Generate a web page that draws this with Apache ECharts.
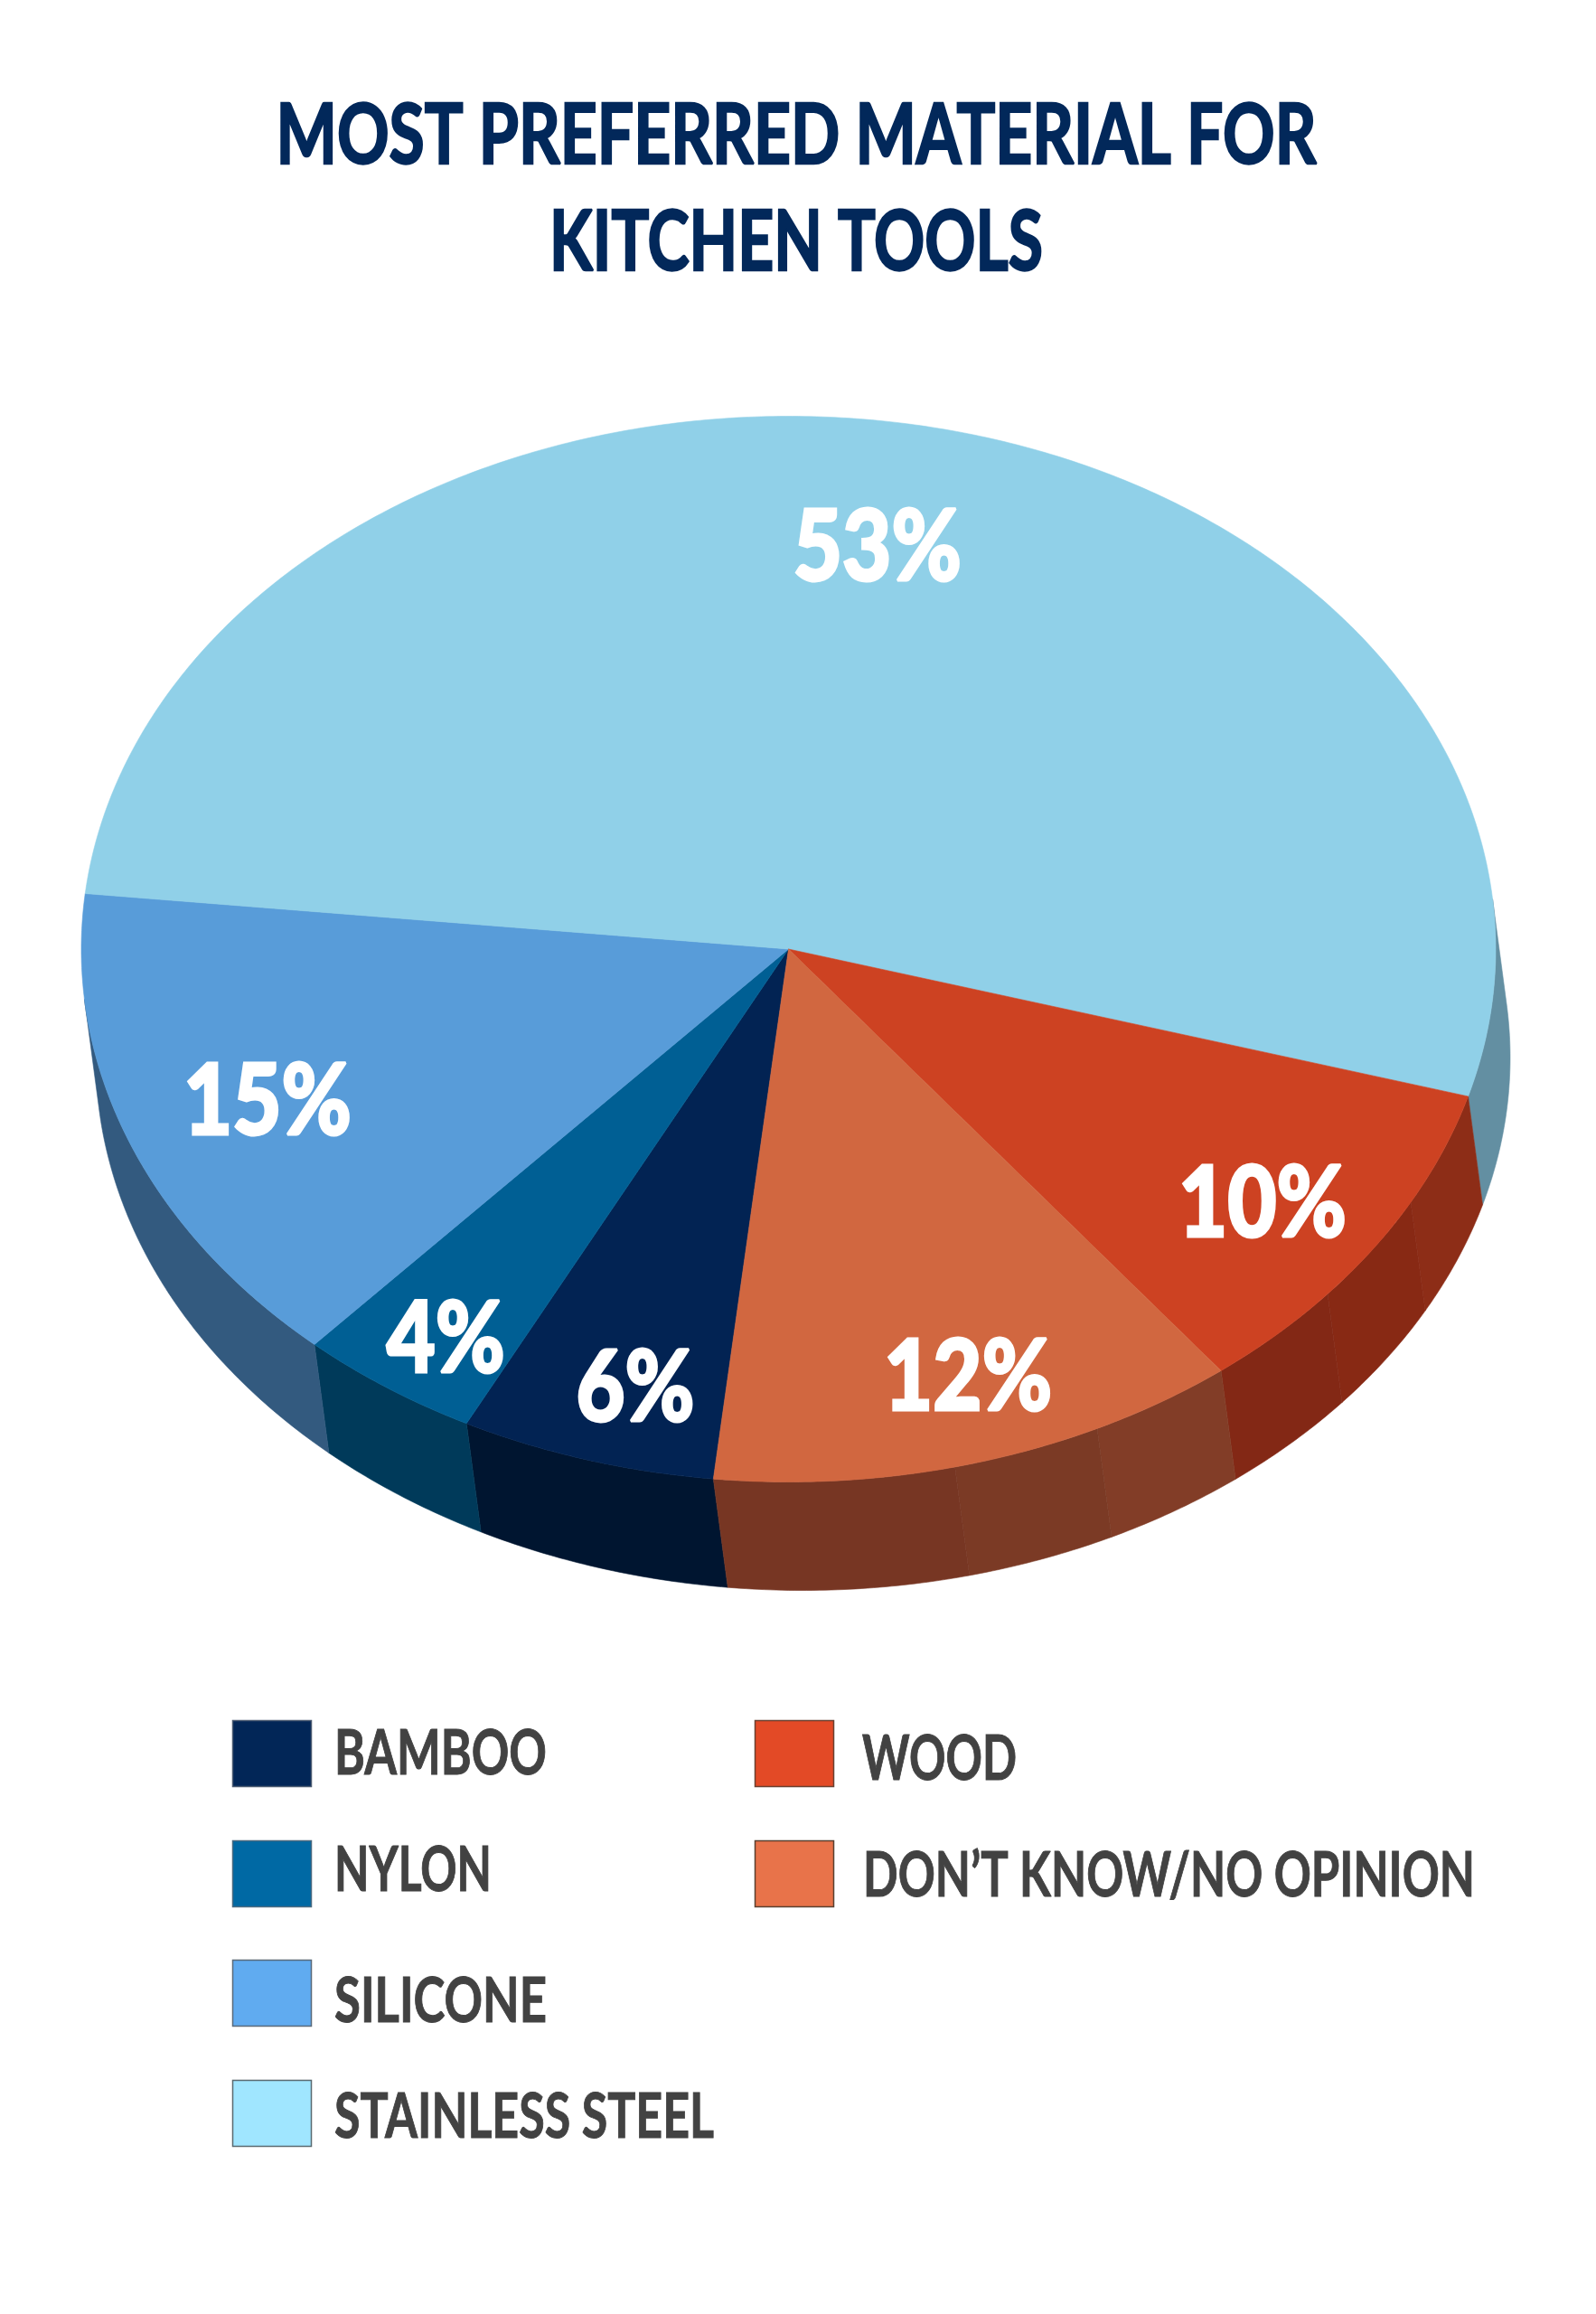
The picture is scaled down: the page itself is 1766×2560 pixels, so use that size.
<!DOCTYPE html>
<html>
<head>
<meta charset="utf-8">
<style>html,body{margin:0;padding:0;background:#fff}#c{width:1766px;height:2560px}</style>
<script src="https://cdn.jsdelivr.net/npm/echarts@6/dist/echarts.min.js"></script>
</head>
<body>
<div id="c"></div>
<script>
var titleLines = ['MOST PREFERRED MATERIAL FOR', 'KITCHEN TOOLS'];
var categories = ['BAMBOO', 'NYLON', 'SILICONE', 'STAINLESS STEEL', 'WOOD', "DON\u2019T KNOW/NO OPINION"];
var values = [5.83, 4.17, 14.97, 52.8, 10.07, 12.17];

var topColors = ['#022353', '#005F94', '#589CD9', '#90D0E8', '#CD4222', '#D16740'];
var legendColors = ['#022657', '#0069A4', '#60ABF0', '#A0E6FF', '#E34A26', '#E8734A'];
var legendBorders = ['#4a5a70', '#4a6a80', '#5a6a7a', '#5a6a70', '#6a4030', '#5a4030'];
// wall shading: [band share of the slice, colour]
var wallBands = [
  [[1, '#001530']],
  [[1, '#003A5A']],
  [[1, '#335A7F']],
  [[1, '#638FA2']],
  [[0.34, '#8D2D17'], [0.33, '#882914'], [0.33, '#832815']],
  [[0.27, '#823D27'], [0.28, '#7B3A25'], [0.45, '#773623']]
];
var labelRadius = [0.848, 0.874, 0.789, 0.768, 0.821, 0.839];
var labelAngleShift = [-1.8, -0.9, 0, -1.6, 1.1, -1.8];

var PIE = {cx: 872.5, cy: 1050, rx: 782.5, ry: 589.5, dx: 16, dy: 120, start: 96.1};
var WALL_FROM = -5.4, WALL_TO = 174.6;
var SANS = 'Lato, "Open Sans", sans-serif';
var measureCtx = document.createElement('canvas').getContext('2d');

function fit(text, font, width) {
  measureCtx.font = font;
  return width / measureCtx.measureText(text).width;
}
function pt(t, ox, oy) {
  var r = t * Math.PI / 180;
  return [PIE.cx + PIE.rx * Math.cos(r) + (ox || 0), PIE.cy + PIE.ry * Math.sin(r) + (oy || 0)];
}
function arc(a, b, ox, oy) {
  var out = [], n = Math.max(2, Math.ceil(Math.abs(b - a) * 2));
  for (var i = 0; i <= n; i++) out.push(pt(a + (b - a) * i / n, ox, oy));
  return out;
}
function wallPiece(a, b, color) {
  var parts = [], offs = [0, 360, -360];
  offs.forEach(function (o) {
    var s = Math.max(a, WALL_FROM + o), e = Math.min(b, WALL_TO + o);
    if (e > s) {
      var pts = arc(s, e).concat(arc(e, s, PIE.dx, PIE.dy));
      parts.push({type: 'polygon', z2: 1, silent: true, shape: {points: pts},
        style: {fill: color, stroke: color, lineWidth: 0.6}});
    }
  });
  return parts;
}

var total = values.reduce(function (s, v) { return s + v; }, 0);

function renderSlice(params, api) {
  var i = params.dataIndex, before = 0;
  for (var k = 0; k < i; k++) before += values[k];
  var a = PIE.start + before / total * 360;
  var b = a + api.value(0) / total * 360;
  var kids = [];
  var cur = a;
  wallBands[i].forEach(function (band) {
    var next = cur + band[0] * (b - a);
    kids = kids.concat(wallPiece(cur, next, band[1]));
    cur = next;
  });
  kids.push({type: 'polygon', z2: 5, shape: {points: [[PIE.cx, PIE.cy]].concat(arc(a, b))},
    style: {fill: topColors[i], stroke: topColors[i], lineWidth: 0.6}});
  var mid = (a + b) / 2 + labelAngleShift[i];
  var rad = mid * Math.PI / 180, lr = labelRadius[i];
  var label = Math.round(api.value(0)) + '%';
  var font = '900 108px ' + SANS;
  kids.push({type: 'text', z2: 10, silent: true,
    x: PIE.cx + PIE.rx * lr * Math.cos(rad),
    y: PIE.cy + PIE.ry * lr * Math.sin(rad) + 4,
    scaleX: fit(label, font, label.length === 2 ? 131 : 186),
    style: {text: label, font: font, fill: '#FFFFFF', stroke: '#FFFFFF', lineWidth: 3, lineJoin: 'miter',
      align: 'center', verticalAlign: 'middle'}});
  return {type: 'group', children: kids};
}

var titleFont = '700 92px ' + SANS;
var legendFont = '700 68px ' + SANS;
var titleWidths = [1151, 546];
var titleCentres = [[881, 151], [881, 269]];
var legendSwatches = [[257, 1903], [257, 2036], [257, 2168], [257, 2301], [835, 1903], [835, 2036]];
var legendTextAt = [[370, 1941], [370, 2070], [370, 2215], [370, 2343], [954, 1947], [955, 2076]];
var legendWidths = [235, 174, 235, 420, 171, 677];

var graphics = [];
titleLines.forEach(function (t, i) {
  graphics.push({type: 'text', x: titleCentres[i][0], y: titleCentres[i][1],
    scaleX: fit(t, titleFont, titleWidths[i]),
    style: {text: t, font: titleFont, fill: '#02285A', stroke: '#02285A', lineWidth: 2.5,
      align: 'center', verticalAlign: 'middle'}});
});
categories.forEach(function (c, i) {
  graphics.push({type: 'rect', shape: {x: legendSwatches[i][0] + 0.5, y: legendSwatches[i][1] + 0.5, width: 87, height: 73},
    style: {fill: legendColors[i], stroke: legendBorders[i], lineWidth: 1.5}});
  graphics.push({type: 'text', x: legendTextAt[i][0], y: legendTextAt[i][1],
    scaleX: fit(c, legendFont, legendWidths[i]),
    style: {text: c, font: legendFont, fill: '#424242', stroke: '#424242', lineWidth: 1,
      align: 'left', verticalAlign: 'middle'}});
});

var chart = echarts.init(document.getElementById('c'), null, {renderer: 'canvas', width: 1766, height: 2560});
chart.setOption({
  animation: false,
  backgroundColor: '#FFFFFF',
  graphic: {elements: graphics},
  series: [{
    type: 'custom',
    coordinateSystem: 'none',
    renderItem: renderSlice,
    data: values.map(function (v, i) { return {name: categories[i], value: [v]}; })
  }]
});
</script>
</body>
</html>
